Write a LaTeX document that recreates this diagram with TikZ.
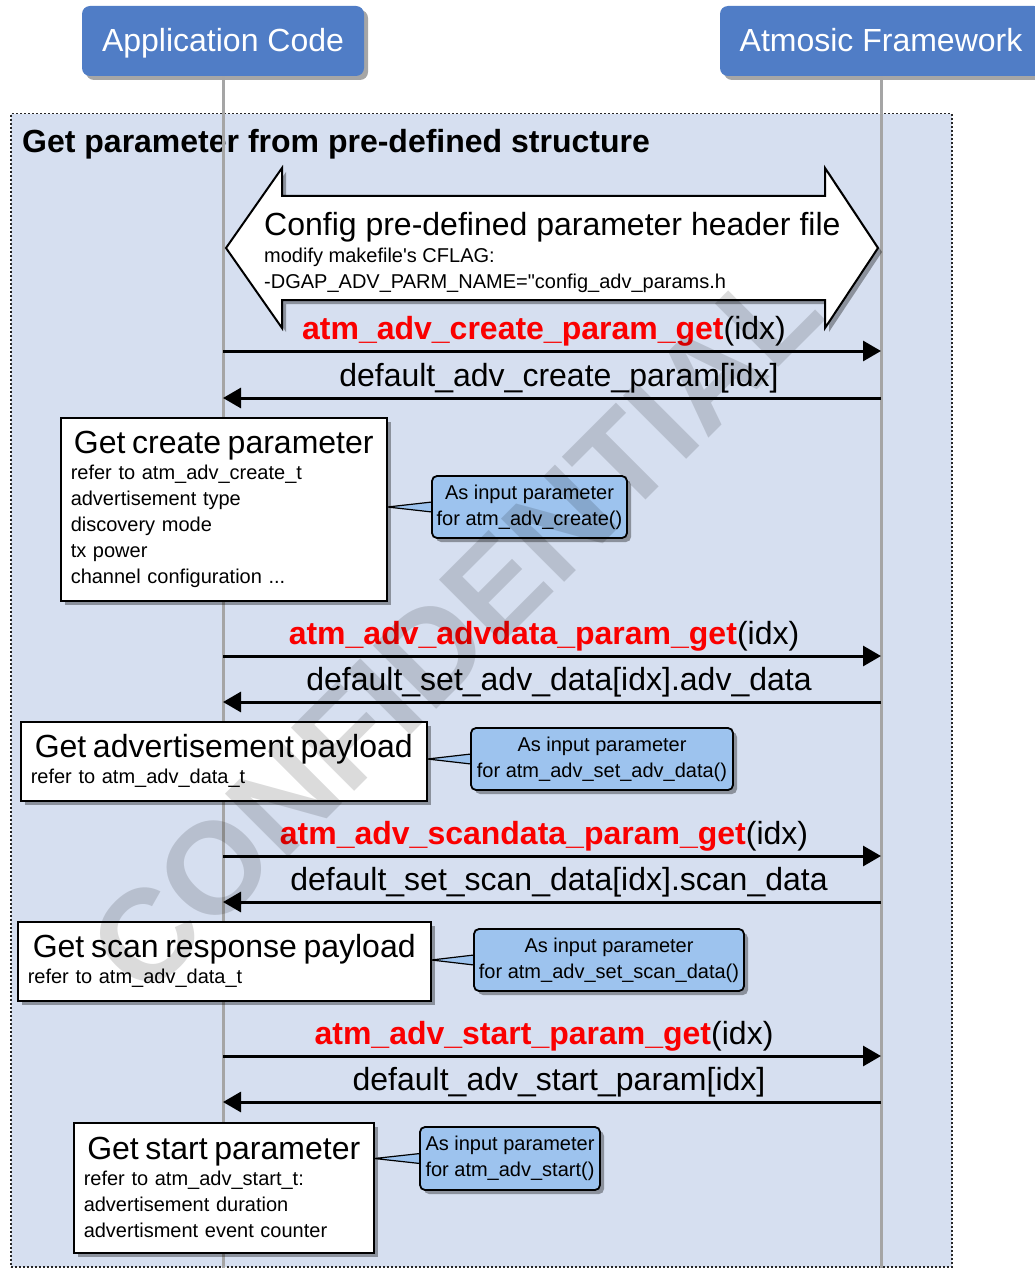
\documentclass[tikz,border=0pt]{standalone}
\usepackage{fontspec}
\setmainfont{Liberation Sans}
\usetikzlibrary{arrows.meta,shadows,calc}

\definecolor{headblue}{RGB}{80,125,198}
\definecolor{groupfill}{RGB}{214,223,240}
\definecolor{noteblue}{RGB}{157,195,238}
\definecolor{lifegray}{RGB}{165,165,165}
\definecolor{callred}{RGB}{250,0,0}

% font sizes (1pt = 1 pixel of the final image)
\newcommand\fsbig{\fontsize{32}{38}\selectfont}
\newcommand\fssmall{\fontsize{20}{26}\selectfont}
\newcommand\fnname[1]{{\bfseries\color{callred}#1}}
\newcommand\notetitle[2]{\makebox[#1][c]{\fsbig #2}}

\tikzset{
  dropshade/.style={drop shadow={shadow xshift=4pt,shadow yshift=-4pt,opacity=0.35,fill=black}},
  actor/.style={rectangle, rounded corners=8pt, fill=headblue, text=white, font=\fsbig,
    minimum height=70pt, inner sep=0pt, text height=26pt, text depth=4pt, dropshade},
  lifeline/.style={draw=lifegray, line width=3pt},
  groupframe/.style={rectangle, draw=black!85, fill=groupfill, line width=1.5pt,
    dash pattern=on 2pt off 2pt, inner sep=0pt},
  cfgarrow/.style={draw=black, fill=white, line width=2pt, line join=miter, dropshade},
  msg/.style={draw=black, line width=3pt, -{Triangle[length=18pt,width=20pt]}},
  msglabel/.style={anchor=base, font=\fsbig, inner sep=0pt},
  notebox/.style={rectangle, draw=black, line width=1.5pt, fill=white, font=\fssmall,
    align=left, inner xsep=10pt, inner ysep=0pt, dropshade},
  callout/.style={rectangle, rounded corners=5pt, draw=black, line width=1.8pt, fill=noteblue,
    font=\fssmall, align=center, inner sep=0pt, minimum height=62pt, dropshade},
  tail/.style={draw=black, line width=1.2pt, fill=noteblue, line join=round},
  plain/.style={inner sep=0pt}
}

\begin{document}
\begin{tikzpicture}[x=1pt,y=-1pt]
\useasboundingbox (0,0) rectangle (1034,1268);

% group frame
\node[groupframe, anchor=north west, minimum width=941pt, minimum height=1153pt] (grp) at (10,113) {};
\node[plain, anchor=base west, font=\fsbig\bfseries] (grptitle) at (22,153)
  {Get parameter from pre-defined structure};

% participants and lifelines
\coordinate (bottom) at (0,1268);
\node[actor, minimum width=282pt] (app) at (223,41) {Application Code};
\node[actor, minimum width=322pt] (fw) at (881,41) {Atmosic Framework};
\draw[lifeline] (app.south) -- (app.south |- bottom);
\draw[lifeline] (fw.south) -- (fw.south |- bottom);

% configuration double arrow
\path[cfgarrow] (226,248) -- (282,168) -- (282,196) -- (825,196) -- (825,168) -- (878,248)
  -- (825,328) -- (825,300) -- (282,300) -- (282,328) -- cycle;
\node[plain, anchor=base west, font=\fsbig] (cfgA) at (264,235) {Config pre-defined parameter header file};
\node[plain, anchor=base west, font=\fssmall] (cfgB) at (264,262) {modify makefile\textquotesingle s CFLAG:};
\node[plain, anchor=base west, font=\fssmall] (cfgC) at (264,288) {-DGAP\_ADV\_PARM\_NAME=\textquotedbl config\_adv\_params.h};

% message levels
\coordinate (y1) at (0,351);
\coordinate (y2) at (0,398);
\coordinate (y3) at (0,656);
\coordinate (y4) at (0,702);
\coordinate (y5) at (0,856);
\coordinate (y6) at (0,902);
\coordinate (y7) at (0,1056);
\coordinate (y8) at (0,1102);

\draw[msg] (app |- y1) -- (fw |- y1);
\draw[msg] (fw |- y2) -- (app |- y2);
\draw[msg] (app |- y3) -- (fw |- y3);
\draw[msg] (fw |- y4) -- (app |- y4);
\draw[msg] (app |- y5) -- (fw |- y5);
\draw[msg] (fw |- y6) -- (app |- y6);
\draw[msg] (app |- y7) -- (fw |- y7);
\draw[msg] (fw |- y8) -- (app |- y8);

\node[msglabel] (t1) at (544,339) {\fnname{atm\_adv\_create\_param\_get}(idx)};
\node[msglabel] (t2) at (559,386) {default\_adv\_create\_param[idx]};
\node[msglabel] (t3) at (544,644) {\fnname{atm\_adv\_advdata\_param\_get}(idx)};
\node[msglabel] (t4) at (559,690) {default\_set\_adv\_data[idx].adv\_data};
\node[msglabel] (t5) at (544,844) {\fnname{atm\_adv\_scandata\_param\_get}(idx)};
\node[msglabel] (t6) at (559,890) {default\_set\_scan\_data[idx].scan\_data};
\node[msglabel] (t7) at (544,1044) {\fnname{atm\_adv\_start\_param\_get}(idx)};
\node[msglabel] (t8) at (559,1090) {default\_adv\_start\_param[idx]};

% notes on the application side
\node[notebox, anchor=north west, text width=306pt, minimum height=183pt] (n1) at (60,417)
  {\notetitle{306pt}{Get create parameter}\\refer to atm\_adv\_create\_t\\advertisement type\\discovery mode\\tx power\\channel configuration ...};
\node[notebox, anchor=north west, text width=386pt, minimum height=79pt] (n2) at (20,721)
  {\notetitle{386pt}{Get advertisement payload}\\refer to atm\_adv\_data\_t};
\node[notebox, anchor=north west, text width=393pt, minimum height=79pt] (n3) at (17,921)
  {\notetitle{393pt}{Get scan response payload}\\refer to atm\_adv\_data\_t};
\node[notebox, anchor=north west, text width=280pt, minimum height=130pt] (n4) at (73,1122)
  {\notetitle{280pt}{Get start parameter}\\refer to atm\_adv\_start\_t:\\advertisement duration\\advertisment event counter};

% callouts
\coordinate (c1pos) at (529.5,507);
\coordinate (c2pos) at (602,759);
\coordinate (c3pos) at (609,960);
\coordinate (c4pos) at (510,1158.5);
\path[tail] (n1.east |- c1pos) -- ([yshift=5pt]c1pos -| 432,0) -- ([yshift=-5pt]c1pos -| 432,0) -- cycle;
\path[tail] (n2.east |- c2pos) -- ([yshift=5pt]c2pos -| 471,0) -- ([yshift=-5pt]c2pos -| 471,0) -- cycle;
\path[tail] (n3.east |- c3pos) -- ([yshift=5pt]c3pos -| 474,0) -- ([yshift=-5pt]c3pos -| 474,0) -- cycle;
\path[tail] (n4.east |- c4pos) -- ([yshift=5pt]c4pos -| 420,0) -- ([yshift=-5pt]c4pos -| 420,0) -- cycle;
\node[callout, minimum width=195pt] (c1) at (c1pos) {As input parameter\\for atm\_adv\_create()};
\node[callout, minimum width=262pt] (c2) at (c2pos) {As input parameter\\for atm\_adv\_set\_adv\_data()};
\node[callout, minimum width=270pt] (c3) at (c3pos) {As input parameter\\for atm\_adv\_set\_scan\_data()};
\node[callout, minimum width=180pt, minimum height=63pt, align=left] (c4) at (c4pos) {As input parameter\\for atm\_adv\_start()};

% watermark
\node[plain, rotate=45, font=\fontsize{130}{130}\selectfont\bfseries, text=black, opacity=0.14] (wm)
  at (455,628) {CONFIDENTIAL};
\end{tikzpicture}
\end{document}
